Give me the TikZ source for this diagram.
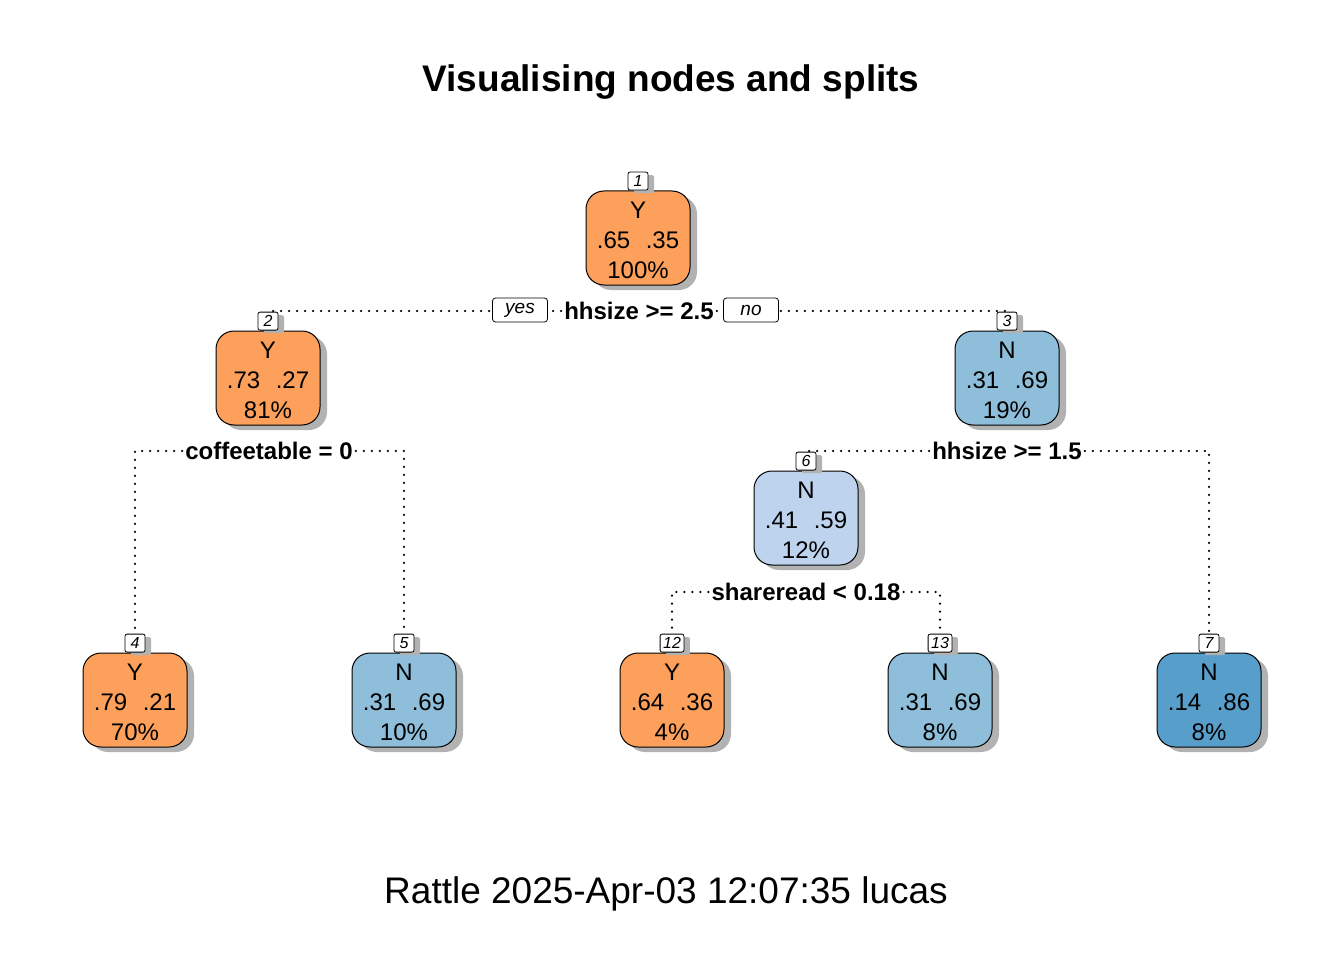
\documentclass[tikz,border=0pt]{standalone}
\usepackage{fontspec}
\setmainfont{Liberation Sans}
\usetikzlibrary{positioning,shadows}
\definecolor{orng}{RGB}{252,160,92}
\definecolor{bluelt}{RGB}{190,212,238}
\definecolor{bluemd}{RGB}{142,190,218}
\definecolor{bluedk}{RGB}{88,158,202}

\begin{document}
\begin{tikzpicture}
        [x=1pt,y=-1pt]
            \tikzstyle{every node}=[inner sep=0pt]
            \tikzstyle{box}=[draw, line width=1pt, rounded corners=18pt,
        minimum width=104pt, minimum height=94pt, align=center,
        font=\fontsize{24}{30}\selectfont,
        drop shadow={shadow xshift=7pt, shadow yshift=-5pt, fill=black!30, opacity=1}]
            \tikzstyle{num}=[draw, fill=white, line width=0.8pt, rounded corners=2pt,
        minimum width=20pt, minimum height=18pt, inner xsep=3pt,
        font=\fontsize{16}{16}\selectfont\itshape,
        drop shadow={shadow xshift=6pt, shadow yshift=-3pt, fill=black!30, opacity=1}]
            \tikzstyle{yn}=[draw, fill=white, line width=0.8pt, rounded corners=3pt,
        minimum width=55pt, minimum height=24pt, font=\fontsize{19}{19}\selectfont\itshape]
            \tikzstyle{rule}=[fill=white, inner sep=3pt, font=\fontsize{24}{24}\selectfont\bfseries]
            \tikzstyle{split}=[line width=2.4pt, dash pattern=on 0pt off 8pt, line cap=round]

         \useasboundingbox (0,0) rectangle (1344,960);

         \node[font=\fontsize{37}{37}\selectfont\bfseries] (title) at (671,82) {Visualising nodes and splits};

        %-----tree nodes
         \node[box, fill=orng]   (n1)  at (638,238) {\strut Y\\.65\hspace{.65em}.35\\100\%};
         \node[box, fill=orng]   (n2)  at (268,378) {\strut Y\\.73\hspace{.65em}.27\\81\%};
         \node[box, fill=bluemd] (n3)  at (1007,378) {\strut N\\.31\hspace{.65em}.69\\19\%};
         \node[box, fill=bluelt] (n6)  at (806,518) {\strut N\\.41\hspace{.65em}.59\\12\%};
         \node[box, fill=orng]   (n4)  at (135,700) {\strut Y\\.79\hspace{.65em}.21\\70\%};
         \node[box, fill=bluemd] (n5)  at (404,700) {\strut N\\.31\hspace{.65em}.69\\10\%};
         \node[box, fill=orng]   (n12) at (672,700) {\strut Y\\.64\hspace{.65em}.36\\4\%};
         \node[box, fill=bluemd] (n13) at (940,700) {\strut N\\.31\hspace{.65em}.69\\8\%};
         \node[box, fill=bluedk] (n7)  at (1209,700) {\strut N\\.14\hspace{.65em}.86\\8\%};

        %-----node numbers
         \foreach \n in {1,2,3,6,4,5,12,13,7}
         \node[num, above=0pt of n\n] (lb\n) {\n};

        %-----splits
         \node[rule] (sp1) at (639,311) {hhsize >= 2.5};
         \node[rule] (sp2) at (269,451) {coffeetable = 0};
         \node[rule] (sp3) at (1007,451) {hhsize >= 1.5};
         \node[rule] (sp6) at (806,592) {shareread < 0.18};

         \foreach \from/\to in {sp1/lb2,sp2/lb4,sp3/lb6,sp6/lb12}
         \draw[split] (\from.west) -| (\to.north);
         \foreach \from/\to in {sp1/lb3,sp2/lb5,sp3/lb7,sp6/lb13}
         \draw[split] (\from.east) -| (\to.north);

         \node[yn] (yes) at (520,310) {yes};
         \node[yn] (no)  at (751,310) {no};

         \node[font=\fontsize{37}{37}\selectfont] (footer) at (666,894) {Rattle 2025-Apr-03 12:07:35 lucas};
        \end{tikzpicture}
\end{document}
